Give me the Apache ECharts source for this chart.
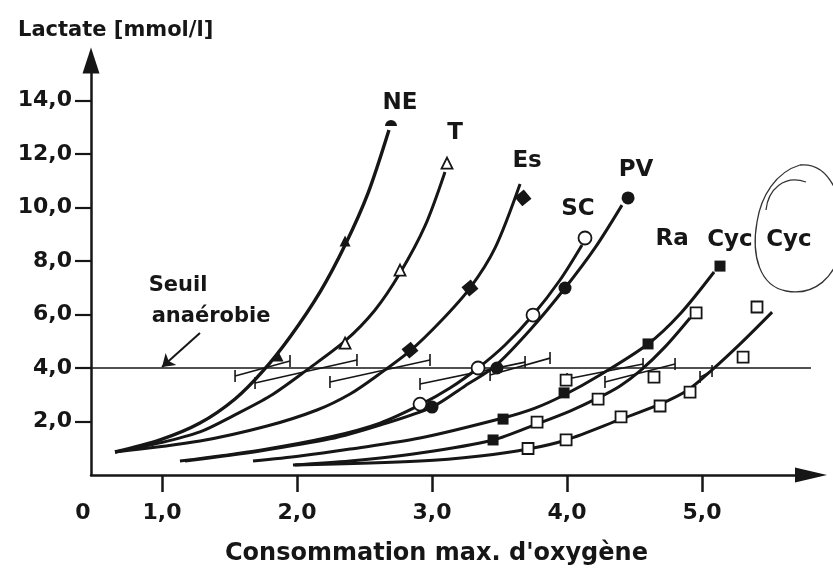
<!DOCTYPE html>
<html>
<head>
<meta charset="utf-8">
<script src="https://cdn.jsdelivr.net/npm/echarts@6/dist/echarts.min.js"></script>
<style>
  html, body { margin: 0; padding: 0; background: #ffffff; }
  #chart { width: 833px; height: 573px; }
</style>
</head>
<body>
<div id="chart"></div>
<script>
// Lactate vs. maximal oxygen uptake for eight groups of athletes.
// Each curve: [VO2max, lactate] points; markers: measured points.

const xTickValues = [1, 2, 3, 4, 5];
const yTickValues = [2, 4, 6, 8, 10, 12, 14];
const thresholdLactate = 4.0;

const neCurve = [[0.652, 0.86], [0.985, 1.31], [1.281, 1.94], [1.541, 2.84], [1.748, 3.89], [1.948, 5.16], [2.170, 6.84], [2.356, 8.60], [2.526, 10.54], [2.681, 12.90]];
const tCurve = [[0.652, 0.86], [0.985, 1.20], [1.281, 1.61], [1.526, 2.21], [1.800, 2.95], [2.074, 3.93], [2.356, 5.01], [2.578, 6.17], [2.763, 7.55], [2.948, 9.31], [3.096, 11.33]];
const esCurve = [[0.652, 0.86], [1.281, 1.27], [1.778, 1.83], [2.148, 2.43], [2.393, 3.03], [2.600, 3.74], [2.837, 4.64], [3.059, 5.72], [3.281, 6.99], [3.467, 8.49], [3.652, 10.88]];
const scCurve = [[1.133, 0.52], [1.726, 0.93], [2.244, 1.42], [2.615, 1.94], [2.911, 2.62], [3.133, 3.25], [3.341, 4.00], [3.541, 4.86], [3.748, 5.98], [3.948, 7.29], [4.111, 8.60]];
const pvCurve = [[1.170, 0.52], [1.726, 0.90], [2.244, 1.35], [2.615, 1.87], [3.000, 2.54], [3.244, 3.33], [3.467, 4.07], [3.726, 5.42], [3.985, 6.99], [4.207, 8.49], [4.407, 10.09]];
const raCurve = [[1.674, 0.52], [2.022, 0.71], [2.393, 0.97], [2.911, 1.38], [3.526, 2.13], [3.763, 2.50], [3.978, 2.99], [4.244, 3.74], [4.600, 4.90], [4.837, 6.02], [5.089, 7.59]];
const cyc1Curve = [[1.970, 0.37], [2.393, 0.52], [2.911, 0.82], [3.452, 1.31], [3.778, 1.91], [4.022, 2.39], [4.230, 2.88], [4.393, 3.33], [4.541, 3.89], [4.726, 4.79], [4.911, 5.87]];
const cyc2Curve = [[1.985, 0.37], [2.911, 0.52], [3.356, 0.71], [3.711, 0.97], [3.993, 1.31], [4.400, 2.09], [4.689, 2.65], [4.896, 3.18], [5.074, 3.93], [5.296, 4.97], [5.519, 6.09]];

const neMarks = [[1.859, 4.45], [2.356, 8.75]];
const neTop = [[2.696, 13.16]];
const tMarks = [[2.356, 4.93], [2.763, 7.66], [3.111, 11.66]];
const esMarks = [[2.837, 4.67], [3.281, 6.99], [3.674, 10.36]];
const scMarks = [[2.911, 2.65], [3.341, 4.00], [3.748, 5.98], [4.133, 8.86]];
const pvMarks = [[3.000, 2.54], [3.481, 4.00], [3.985, 6.99], [4.452, 10.36]];
const raMarks = [[3.452, 1.31], [3.526, 2.09], [3.978, 3.07], [4.600, 4.90], [5.133, 7.81]];
const cyc1Marks = [[3.778, 1.98], [3.993, 3.55], [4.230, 2.84], [4.644, 3.66], [4.956, 6.06]];
const cyc2Marks = [[3.711, 0.99], [3.993, 1.31], [4.400, 2.17], [4.689, 2.58], [4.911, 3.10], [5.304, 4.41], [5.407, 6.28]];

// Threshold spread for each group: [x start, y start, x end, y end]
const thresholdBars = [
  [1.541, 3.70, 1.948, 4.26],
  [1.689, 3.44, 2.444, 4.30],
  [2.244, 3.48, 2.985, 4.30],
  [2.911, 3.40, 3.689, 4.22],
  [3.430, 3.74, 3.874, 4.37],
  [4.000, 3.59, 4.563, 4.15],
  [4.281, 3.48, 4.800, 4.15],
  [4.985, 3.66, 5.074, 3.89]
];

const groupNames = ['NE', 'T', 'Es', 'SC', 'PV', 'Ra', 'Cyc', 'Cyc'];
const groupLabelAt = [[2.763, 13.91], [3.170, 12.78], [3.704, 11.74], [4.081, 9.94], [4.511, 11.40], [4.778, 8.82], [5.207, 8.79], [5.644, 8.79]];
const noteLines = ['Seuil', 'anaérobie'];
const noteAt = [[1.119, 7.10], [1.363, 5.94]];
const noteArrow = [[1.281, 5.31], [1.000, 4.04]];

const xMin = 0.474, xMax = 5.807, yMin = 0, yMax = 15.5;
const INK = '#161616';
const FONT = 'DejaVu Sans';

const fmt = v => v.toFixed(1).replace('.', ',');

function curve(data, w) {
  return { type: 'line', data: data, smooth: 0.3, symbol: 'none', z: 2,
    lineStyle: { color: INK, width: w || 3 }, silent: true };
}
function marks(data, symbol, filled, size, extra) {
  return Object.assign({ type: 'scatter', data: data, symbol: symbol, symbolSize: size, z: 5,
    itemStyle: { color: filled ? INK : '#ffffff', borderColor: INK, borderWidth: filled ? 0 : 1.8, opacity: 1 },
    silent: true }, extra || {});
}
function textSeries(points, texts, size) {
  return { type: 'scatter', symbolSize: 0, z: 6, silent: true,
    itemStyle: { opacity: 1 },
    data: points.map((p, i) => [p[0], p[1], texts[i]]),
    label: { show: true, position: 'inside', formatter: p => p.value[2], opacity: 1,
      fontFamily: FONT, fontWeight: 'bold', fontSize: size, color: INK } };
}

// freehand loop round the second "Cyc" label, as cubic segments
const loopSegments = [
  [800, 165, 830, 162, 846, 200, 842, 240],
  [842, 240, 838, 280, 812, 296, 786, 291],
  [786, 291, 760, 286, 751, 256, 757, 222],
  [757, 222, 761, 196, 776, 172, 800, 165],
  [766, 210, 768, 190, 784, 174, 806, 182]
];

const chart = echarts.init(document.getElementById('chart'), null, { renderer: 'canvas' });

const option = {
  animation: false,
  backgroundColor: '#ffffff',
  title: [
    { text: 'Lactate [mmol/l]', left: 13, top: 15,
      textStyle: { fontFamily: FONT, fontWeight: 'bold', fontSize: 21, color: INK } },
    { text: "Consommation max. d'oxygène", left: 220, top: 537,
      textStyle: { fontFamily: FONT, fontWeight: 'bold', fontSize: 24, color: INK } }
  ],
  grid: { left: 91, right: 22, top: 60.4, bottom: 98 },
  xAxis: {
    type: 'value', min: xMin, max: xMax,
    splitLine: { show: false },
    axisLine: { show: true, lineStyle: { color: INK, width: 2.5 },
      symbol: ['none', 'triangle'], symbolSize: [15, 32] },
    axisTick: { show: true, inside: false, length: 17, customValues: xTickValues,
      lineStyle: { color: INK, width: 2.5 } },
    axisLabel: { show: true, margin: 27, customValues: [xMin].concat(xTickValues),
      formatter: v => v < 0.9 ? '{z|0}' : fmt(v),
      fontFamily: FONT, fontWeight: 'bold', fontSize: 22, color: INK,
      rich: { z: { fontFamily: FONT, fontWeight: 'bold', fontSize: 22, color: INK, padding: [0, 16, 0, 0] } } }
  },
  yAxis: {
    type: 'value', min: yMin, max: yMax,
    splitLine: { show: false },
    axisLine: { show: true, lineStyle: { color: INK, width: 2.5 },
      symbol: ['none', 'triangle'], symbolSize: [17, 26] },
    axisTick: { show: true, inside: false, length: 16, customValues: yTickValues,
      lineStyle: { color: INK, width: 2.2 } },
    axisLabel: { show: true, margin: 19, customValues: yTickValues, formatter: fmt,
      fontFamily: FONT, fontWeight: 'bold', fontSize: 22, color: INK }
  },
  graphic: loopSegments.map(s => ({
    type: 'bezierCurve', z: 10, silent: true,
    shape: { x1: s[0], y1: s[1], cpx1: s[2], cpy1: s[3], cpx2: s[4], cpy2: s[5], x2: s[6], y2: s[7] },
    style: { fill: null, stroke: '#333', lineWidth: 1.3 }
  })),
  series: [
    curve(neCurve, 3.4), curve(tCurve), curve(esCurve), curve(scCurve), curve(pvCurve),
    curve(raCurve), curve(cyc1Curve), curve(cyc2Curve),
    { type: 'line', data: [[xMin, thresholdLactate], [xMax, thresholdLactate]], symbol: 'none', z: 3,
      lineStyle: { color: INK, width: 1.6 }, silent: true },
    { type: 'custom', z: 4, silent: true, data: thresholdBars,
      encode: { x: [0, 2], y: [1, 3] },
      renderItem: function (params, api) {
        const a = api.coord([api.value(0), api.value(1)]);
        const b = api.coord([api.value(2), api.value(3)]);
        const cap = 6;
        const st = { stroke: INK, lineWidth: 1.6 };
        return { type: 'group', children: [
          { type: 'line', shape: { x1: a[0], y1: a[1], x2: b[0], y2: b[1] }, style: st },
          { type: 'line', shape: { x1: a[0], y1: a[1] - cap, x2: a[0], y2: a[1] + cap }, style: st },
          { type: 'line', shape: { x1: b[0], y1: b[1] - cap, x2: b[0], y2: b[1] + cap }, style: st }
        ] };
      } },
    marks(neMarks, 'triangle', true, 11),
    marks(neTop, 'path://M0,10 A10,10 0 0 1 20,10 Z', true, [12, 6]),
    marks(tMarks, 'triangle', false, 11),
    marks(esMarks, 'rect', true, 12, { symbolRotate: 40 }),
    marks(scMarks, 'circle', false, 13),
    marks(pvMarks, 'circle', true, 13),
    marks(raMarks, 'rect', true, 11),
    marks(cyc1Marks, 'rect', false, 11),
    marks(cyc2Marks, 'rect', false, 11),
    { type: 'lines', coordinateSystem: 'cartesian2d', z: 4, silent: true,
      symbol: ['none', 'arrow'], symbolSize: 12,
      lineStyle: { color: INK, width: 2, opacity: 1 },
      data: [{ coords: noteArrow }] },
    textSeries(groupLabelAt, groupNames, 23),
    textSeries(noteAt, noteLines, 21)
  ]
};

chart.setOption(option);
</script>
</body>
</html>
